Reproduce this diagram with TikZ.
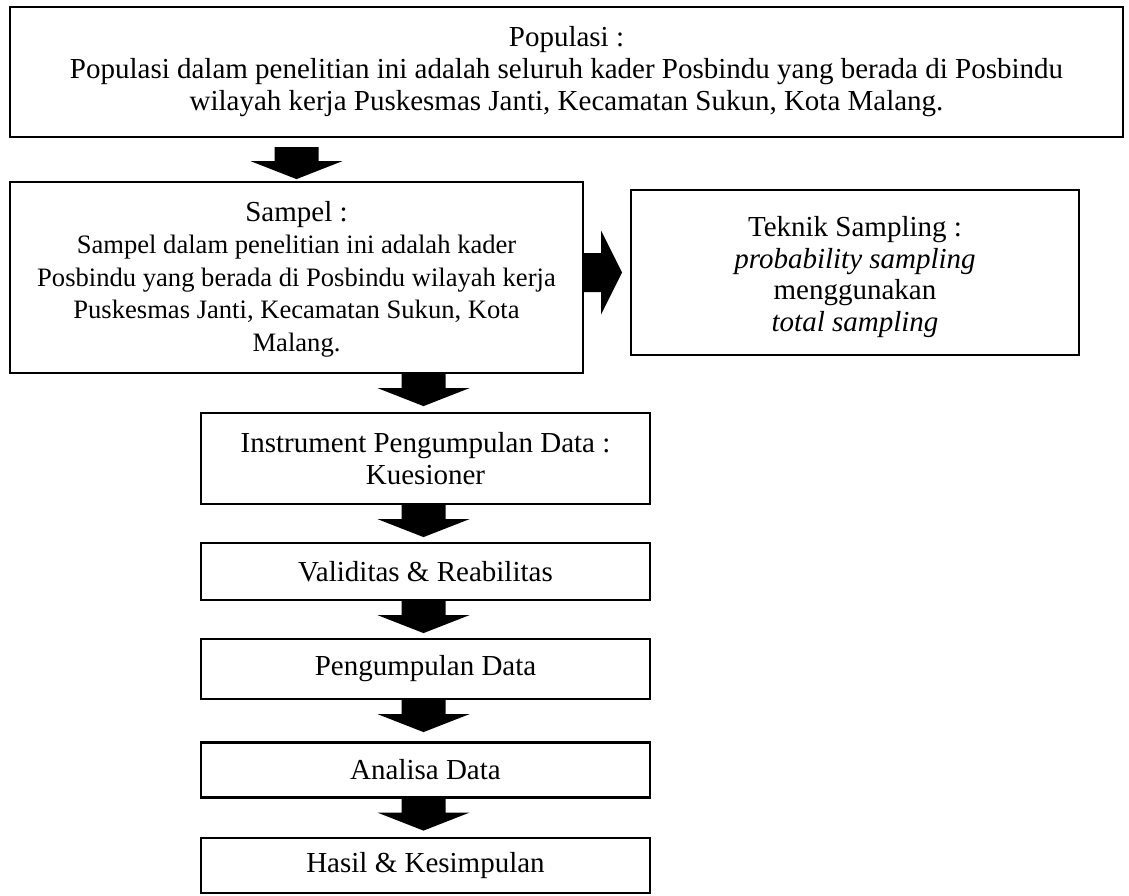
\documentclass[tikz,border=0pt]{standalone}
\usepackage{fontspec}
\setmainfont{Liberation Serif}
\begin{document}
\begin{tikzpicture}[x=1pt,y=-1pt,
  box/.style={draw=black, line width=2.2pt, fill=white, inner sep=0pt, align=center,
    font=\fontsize{29}{32}\selectfont},
  txt/.style={inner sep=0pt, align=center},
  darr/.pic={\fill[black] (-22,0) -- (22,0) -- (22,14) -- (46,14) -- (0,32) -- (-46,14) -- (-22,14) -- cycle;},
  rarr/.pic={\fill[black] (0,-19.5) -- (17,-19.5) -- (17,-42) -- (38,0) -- (17,42) -- (17,19.5) -- (0,19.5) -- cycle;}
]
\useasboundingbox[fill=white] (0,0) rectangle (1129,895);

\node[box, minimum width=1113pt, minimum height=130pt] (pop) at (566.5,72)
  {Populasi :\\Populasi dalam penelitian ini adalah seluruh kader Posbindu yang berada di Posbindu\\wilayah kerja Puskesmas Janti, Kecamatan Sukun, Kota Malang.};

\node[box, minimum width=573pt, minimum height=191pt] (sampel) at (296.5,277.5) {};
\node[txt, font=\fontsize{26.6}{32.5}\selectfont] (sampeltxt) at (296.5,279)
  {{\fontsize{29}{32.5}\selectfont Sampel :}\\Sampel dalam penelitian ini adalah kader\\Posbindu yang berada di Posbindu wilayah kerja\\Puskesmas Janti, Kecamatan Sukun, Kota\\Malang.};

\node[box, minimum width=448pt, minimum height=165pt] (teknik) at (855,272.5) {};
\node[txt, font=\fontsize{29}{31.5}\selectfont] (teknikxt) at (855,277)
  {Teknik Sampling :\\\textit{probability sampling}\\menggunakan\\\textit{total sampling}};

\node[box, minimum width=449pt, minimum height=91pt] (instr) at (425.5,458.5)
  {Instrument Pengumpulan Data :\\Kuesioner};
\node[box, minimum width=449pt, minimum height=57pt] (valid) at (425.5,571.5)
  {Validitas \& Reabilitas};
\node[box, minimum width=449pt, minimum height=60pt] (kumpul) at (425.5,669)
  {Pengumpulan Data};
\node[box, minimum width=449pt, minimum height=55pt] (analisa) at (425.5,770)
  {Analisa Data};
\node[box, minimum width=449pt, minimum height=55pt] (hasil) at (425.5,865.5)
  {Hasil \& Kesimpulan};

\pic at ([yshift=-9pt]pop.south -| sampel.north) {darr};
\pic at ([xshift=-2pt]sampel.south -| instr.north) {darr};
\pic at ([xshift=-2pt]instr.south -| valid.north) {darr};
\pic at ([xshift=-2pt]valid.south -| kumpul.north) {darr};
\pic at ([xshift=-2pt]kumpul.south -| analisa.north) {darr};
\pic at ([xshift=-2pt]analisa.south -| hasil.north) {darr};
\pic at (sampel.east |- teknik.west) {rarr};
\end{tikzpicture}
\end{document}
